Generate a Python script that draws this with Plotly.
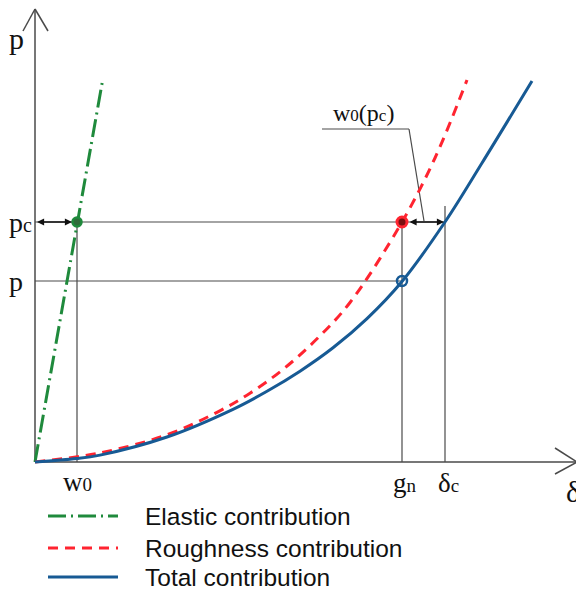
import plotly.graph_objects as go

# ---- data (schematic units) ----
DELTA_TOTAL = [0, 0.42, 0.65, 1.32, 1.98, 2.32, 2.65, 2.98, 3.32, 3.67, 4.10, 4.47, 4.97]
P_TOTAL = [0, 0.034, 0.069, 0.25, 0.527, 0.707, 0.908, 1.142, 1.434, 1.805, 2.40, 2.99, 3.81]

DELTA_ROUGH = [0, 0.65, 1.32, 1.82, 2.15, 2.48, 2.82, 3.15, 3.67, 4.00, 4.32]
P_ROUGH = [0, 0.091, 0.272, 0.497, 0.688, 0.926, 1.232, 1.595, 2.40, 3.04, 3.82]

DELTA_ELASTIC = [0, 0.68]
P_ELASTIC = [0, 3.84]

W0 = 0.42
GN = 3.67
DELTA_C = 4.10
PC = 2.40
P = 1.81

SERIES_NAMES = ["Elastic contribution", "Roughness contribution", "Total contribution"]

GREEN = "#1f8a3c"
RED = "#ff2430"
BLUE = "#175a94"
GRAY = "#4a4a4a"
SERIF = "Liberation Serif"
SANS = "Liberation Sans"

# the page body has an 8px margin; the figure is sized to fit the window
OFF = 8
W, H = 584 - OFF, 595 - OFF

fig = go.Figure()

# curves
fig.add_trace(go.Scatter(x=DELTA_ELASTIC, y=P_ELASTIC, mode="lines",
                         line=dict(color=GREEN, width=3, dash="18px,5px,2px,5px"),
                         name=SERIES_NAMES[0], showlegend=False))
fig.add_trace(go.Scatter(x=DELTA_ROUGH, y=P_ROUGH, mode="lines",
                         line=dict(color=RED, width=3, dash="10px,7px", shape="spline", smoothing=1.0),
                         name=SERIES_NAMES[1], showlegend=False))
fig.add_trace(go.Scatter(x=DELTA_TOTAL, y=P_TOTAL, mode="lines",
                         line=dict(color=BLUE, width=3, shape="spline", smoothing=1.0),
                         name=SERIES_NAMES[2], showlegend=False))

# points
fig.add_trace(go.Scatter(x=[W0], y=[PC], mode="markers", showlegend=False,
                         marker=dict(symbol="circle", size=9, color="#2f6b3a",
                                     line=dict(color=GREEN, width=2.5))))
fig.add_trace(go.Scatter(x=[GN], y=[PC], mode="markers", showlegend=False,
                         marker=dict(symbol="circle", size=10, color="#7a1010",
                                     line=dict(color=RED, width=3))))
fig.add_trace(go.Scatter(x=[GN], y=[P], mode="markers", showlegend=False,
                         marker=dict(symbol="circle-open", size=10, color=BLUE,
                                     line=dict(color=BLUE, width=2.5))))

shapes = []
def seg(x0, y0, x1, y1, color=GRAY, width=1.2):
    shapes.append(dict(type="line", xref="x", yref="y", x0=x0, y0=y0, x1=x1, y1=y1,
                       line=dict(color=color, width=width), layer="below"))

# axes with open arrowheads
AX_X_END = 5.42
AX_Y_END = 4.53
seg(0, 0, AX_X_END, 0, width=1.5)
seg(0, 0, 0, AX_Y_END, width=1.5)
seg(AX_X_END, 0, AX_X_END - 0.22, 0.14, width=1.5)
seg(AX_X_END, 0, AX_X_END - 0.22, -0.12, width=1.5)
seg(0, AX_Y_END, -0.12, AX_Y_END - 0.22, width=1.5)
seg(0, AX_Y_END, 0.13, AX_Y_END - 0.22, width=1.5)

# construction lines
seg(0, PC, DELTA_C, PC)
seg(0, P, GN, P)
seg(W0, 0, W0, PC)
seg(GN, 0, GN, PC)
seg(DELTA_C, 0, DELTA_C, PC + 0.16)
# leader for w0(pc)
seg(2.87, 3.33, 3.74, 3.33)
seg(3.74, 3.33, 3.89, PC + 0.01)

# legend samples (paper coords)
leg_rows = [516, 548, 577]
leg_styles = [dict(color=GREEN, width=3, dash="18px,5px,2px,5px"),
              dict(color=RED, width=3, dash="10px,7px"),
              dict(color=BLUE, width=3)]
annotations = []
for row, st, name in zip(leg_rows, leg_styles, SERIES_NAMES):
    yp = 1 - (row - OFF) / H
    shapes.append(dict(type="line", xref="paper", yref="paper",
                       x0=(48 - OFF) / W, x1=(118 - OFF) / W, y0=yp, y1=yp, line=st))
    annotations.append(dict(xref="paper", yref="paper", x=(143 - OFF) / W, y=yp,
                            xanchor="left", yanchor="middle", showarrow=False, text=name,
                            font=dict(family=SANS, size=24.5, color="#111")))

# double arrows
for xa, xb in [(0.005, W0 - 0.05), (GN + 0.06, DELTA_C - 0.01)]:
    annotations.append(dict(x=xb, y=PC, ax=xa, ay=PC, xref="x", yref="y", axref="x", ayref="y",
                            text="", showarrow=True, arrowhead=2, arrowsize=1.1, arrowwidth=1.3,
                            arrowside="end+start", arrowcolor="#111", startarrowhead=2,
                            startarrowsize=1.1))

def lab(x, y, text, size, xanchor="center", yanchor="middle"):
    annotations.append(dict(x=x, y=y, xref="x", yref="y", text=text, showarrow=False,
                            xanchor=xanchor, yanchor=yanchor,
                            font=dict(family=SERIF, size=size, color="#111")))

sub = lambda s, sz: f"<span style='font-size:{sz}px'>{s}</span>"
lab(-0.19, 4.24, "p", 30)
lab(-0.15, PC, "p" + sub("c", 20), 28)
lab(-0.19, P, "p", 28)
lab(W0, -0.20, "w" + sub("0", 19), 27)
lab(GN + 0.03, -0.21, "g" + sub("n", 19), 27)
lab(DELTA_C + 0.03, -0.21, "δ" + sub("c", 19), 27)
lab(5.38, -0.29, "δ", 30)
lab(3.28, 3.34, "w" + sub("0", 17) + "(p" + sub("c", 17) + ")", 24, yanchor="bottom")

# data ranges chosen so that the origin sits at window pixel (35, 462), 100 px per unit
X0_PX, Y0_PX = 35 - OFF, 462 - OFF
fig.update_layout(
    width=W, height=H,
    margin=dict(l=0, r=0, t=0, b=0),
    paper_bgcolor="white", plot_bgcolor="white",
    xaxis=dict(range=[-X0_PX / 100, (W - X0_PX) / 100], visible=False, fixedrange=True),
    yaxis=dict(range=[-(H - Y0_PX) / 100, Y0_PX / 100], visible=False, fixedrange=True),
    shapes=shapes, annotations=annotations, showlegend=False,
)

fig.write_html("out.html")
